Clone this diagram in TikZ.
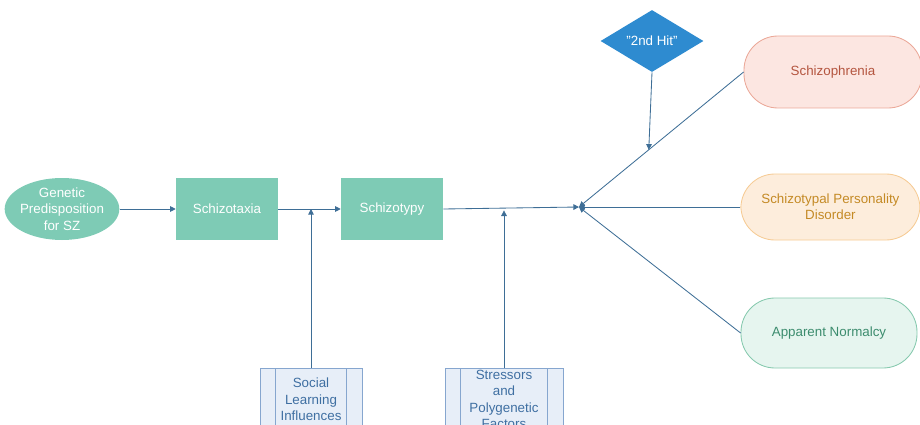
\documentclass[tikz,border=0pt]{standalone}
\usepackage{fontspec}
\setmainfont{Liberation Sans}
\usepackage{tikz}
\usetikzlibrary{positioning}
\usetikzlibrary{arrows.meta}
\usetikzlibrary{shapes.geometric}
\usetikzlibrary{calc}

\definecolor{flowline}{HTML}{3E6E96}
\definecolor{tealfill}{HTML}{7ECBB5}
\definecolor{hitfill}{HTML}{2E8BD0}
\definecolor{procfill}{HTML}{E7EEF8}
\definecolor{procdraw}{HTML}{86A6CF}
\definecolor{proctext}{HTML}{3F6FA2}
\definecolor{szfill}{HTML}{FCE6E1}
\definecolor{szdraw}{HTML}{EBA898}
\definecolor{sztext}{HTML}{B4553F}
\definecolor{spdfill}{HTML}{FDEDDC}
\definecolor{spddraw}{HTML}{F6CB94}
\definecolor{spdtext}{HTML}{C48A25}
\definecolor{anfill}{HTML}{E6F5EF}
\definecolor{andraw}{HTML}{86C9AE}
\definecolor{antext}{HTML}{3C8C6E}

\tikzset{
  every node/.style={font=\fontsize{9.5pt}{11.7pt}\selectfont, align=center, inner sep=1pt},
  flow/.style={draw=flowline, line width=0.6pt, -{Triangle[length=4pt, width=4pt]}},
  stagebox/.style={fill=tealfill, text=white, minimum width=2.55cm, minimum height=1.55cm},
  procbox/.style={draw=procdraw, fill=procfill, text=proctext, anchor=north, minimum height=1.55cm},
  outcome/.style={rectangle, rounded corners=0.85cm, minimum width=4.45cm, line width=0.6pt}
}

\begin{document}
\begin{tikzpicture}
  \useasboundingbox (0, 0) rectangle (23, -10.625);
  \clip (0, 0) rectangle (23, -10.625);

  % main chain
  \node [ellipse, fill=tealfill, text=white, inner sep=-1pt, minimum width=2.6cm, minimum height=1.55cm] (genetic) at (1.55, -5.225) {Genetic\\Predisposition\\for SZ};
  \node [stagebox] (taxia) at (5.675, -5.225) {Schizotaxia};
  \node [stagebox] (typy) at (9.8, -5.225) {Schizotypy};
  \coordinate (hub) at (14.475, -5.175);

  % influences
  \node [procbox, minimum width=2.55cm] (social) at (7.775, -9.2) {Social\\Learning\\Influences};
  \node [procbox, minimum width=2.95cm] (stress) at (12.6, -9.2) {Stressors\\and\\Polygenetic\\Factors};
  \foreach \n in {social, stress} {
    \draw [procdraw] ([xshift=0.4cm]\n.north west) -- ([xshift=0.4cm]\n.south west);
    \draw [procdraw] ([xshift=-0.4cm]\n.north east) -- ([xshift=-0.4cm]\n.south east);
  }

  % outcomes
  \node [diamond, fill=hitfill, text=white, inner sep=0pt, minimum width=2.575cm, minimum height=1.55cm] (hit) at (16.3, -1.025) {"2nd Hit"};
  \node [outcome, draw=szdraw, fill=szfill, text=sztext, minimum height=1.8cm] (sz) at (20.825, -1.8) {Schizophrenia};
  \node [outcome, draw=spddraw, fill=spdfill, text=spdtext, minimum width=4.475cm, minimum height=1.65cm] (spd) at (20.76, -5.175) {Schizotypal Personality\\Disorder};
  \node [outcome, draw=andraw, fill=anfill, text=antext, minimum width=4.4cm, minimum height=1.75cm] (normal) at (20.725, -8.325) {Apparent Normalcy};

  % connectors
  \draw [flow] (genetic) -- (taxia);
  \draw [flow] (taxia) -- (typy);
  \draw [flow] (typy.east) -- (hub);
  \draw [flow] (social.north) -- (social.north |- taxia.east);
  \draw [flow] (stress.north) -- ([yshift=-1pt]stress.north |- typy.east);
  \draw [flow] (sz.west) -- (hub);
  \draw [flow] (spd.west) -- (hub);
  \draw [flow] (normal.west) -- (hub);
  \coordinate (hitpt) at ($(hub)!0.424!(sz.west)$);
  \draw [flow] (hit.south) -- (hitpt);
\end{tikzpicture}
\end{document}
